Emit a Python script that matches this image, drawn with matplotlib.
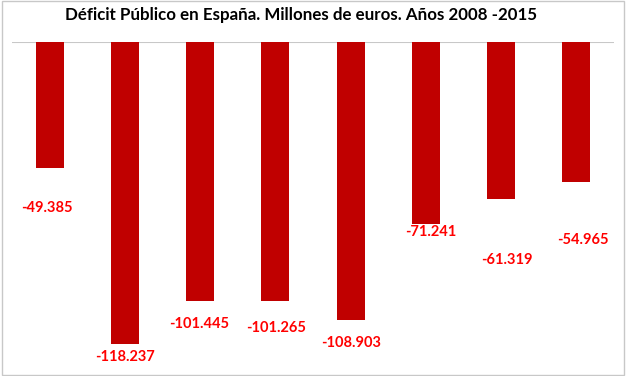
import matplotlib.pyplot as plt
from matplotlib.patches import Rectangle

years = ["2008", "2009", "2010", "2011", "2012", "2013", "2014", "2015"]
deficit = [-49.385, -118.237, -101.445, -101.265, -108.903, -71.241, -61.319, -54.965]
labels = ["-49.385", "-118.237", "-101.445", "-101.265", "-108.903", "-71.241", "-61.319", "-54.965"]

# where the hand-placed data labels sit (data units)
label_x_shift = [-0.04, 0.0, -0.01, 0.01, 0.0, 0.07, 0.07, 0.08]
label_y = [-65.0, -123.3, -110.4, -112.0, -117.9, -74.4, -85.4, -77.5]

fig = plt.figure(figsize=(6.27, 3.76), dpi=100)
ax = fig.add_axes([12 / 627, 7 / 376, 602 / 627, 327 / 376])

x = range(len(years))
ax.bar(x, deficit, width=0.37, color="#C00000", zorder=2)
ax.axhline(0, color="#C8C8C8", lw=1.5, zorder=1)

for i, lab in enumerate(labels):
    ax.text(i + label_x_shift[i], label_y[i], lab, ha="center", va="center",
            color="#FF0000", fontsize=10.5, fontweight="bold", family="Lato")

ax.set_xlim(-0.5, 7.5)
ax.set_ylim(-128, 0)
ax.axis("off")

fig.text(0.48, 1 - 15 / 376, "Déficit Público en España. Millones de euros. Años 2008 -2015",
         ha="center", va="center", fontsize=12.2, fontweight="bold", family="Lato")

fig.patches.append(Rectangle((2 / 627, 1 / 376), 622 / 627, 374 / 376, transform=fig.transFigure,
                             fill=False, edgecolor="#C8C8C8", lw=1))

plt.savefig("out.png", dpi=100)
